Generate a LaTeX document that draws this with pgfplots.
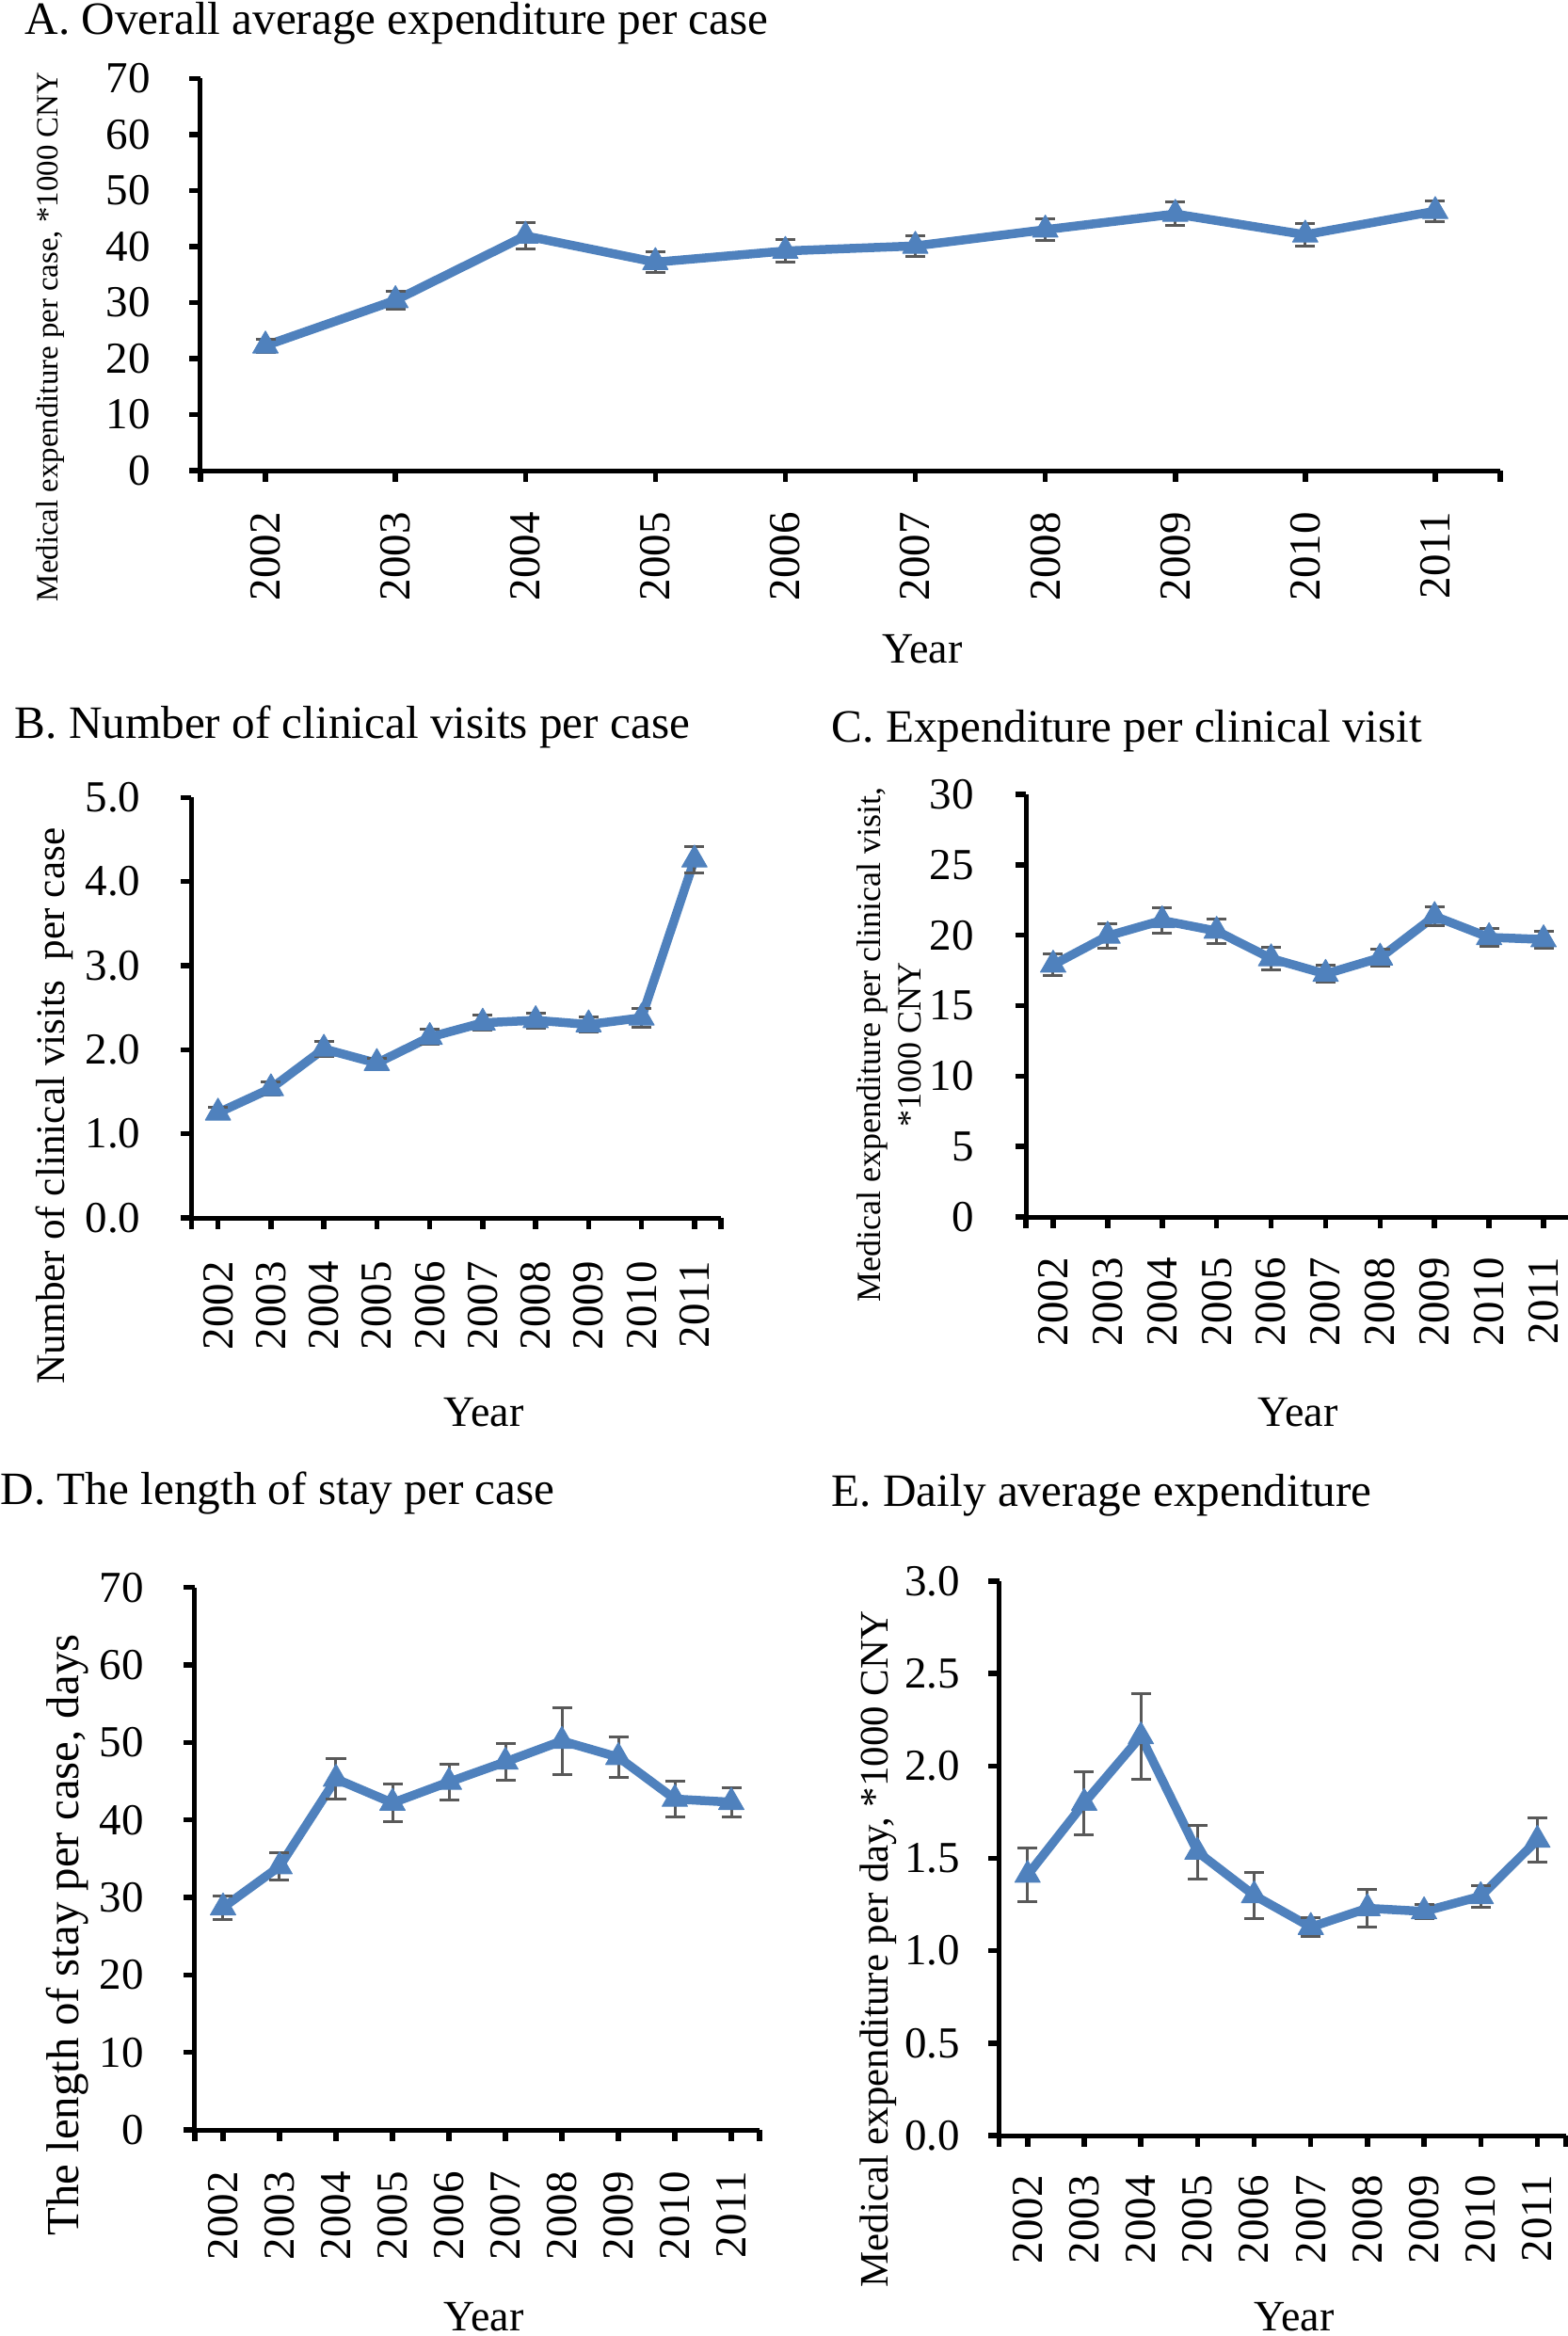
\documentclass[border=0pt]{standalone}
\usepackage{pgfplots}
\usepackage{pgfplotstable}
\pgfplotsset{compat=1.18}
\usepackage{fontspec}
\setmainfont{Liberation Serif}
\definecolor{lineblue}{RGB}{79,129,189}
\definecolor{errgray}{RGB}{89,89,89}
\newcommand\fTitle{\fontsize{14pt}{16pt}\selectfont}
\newcommand\fTick{\fontsize{13.37pt}{16pt}\selectfont}
\newcommand\fYear{\fontsize{13.1pt}{16pt}\selectfont}

\pgfplotstableread{
x y e
0 22.3 1.2
1 30.4 1.6
2 41.9 2.3
3 37.2 1.8
4 39.2 2.0
5 40.1 1.8
6 43.0 2.0
7 45.8 2.1
8 42.1 2.0
9 46.3 1.8
}\dataA
\pgfplotstableread{
x y e
0 1.25 0.06
1 1.54 0.08
2 2.01 0.09
3 1.84 0.06
4 2.15 0.09
5 2.32 0.09
6 2.35 0.09
7 2.30 0.085
8 2.38 0.11
9 4.26 0.16
}\dataB
\pgfplotstableread{
x y e
0 17.9 0.78
1 19.95 0.85
2 21.05 0.9
3 20.3 0.88
4 18.35 0.8
5 17.25 0.6
6 18.4 0.58
7 21.35 0.7
8 19.85 0.65
9 19.7 0.6
}\dataC
\pgfplotstableread{
x y e
0 28.7 1.5
1 34.0 1.75
2 45.3 2.6
3 42.2 2.45
4 44.9 2.35
5 47.5 2.4
6 50.2 4.3
7 48.1 2.65
8 42.7 2.25
9 42.3 1.85
}\dataD
\pgfplotstableread{
x y e
0 1.41 0.145
1 1.80 0.17
2 2.16 0.23
3 1.535 0.145
4 1.30 0.125
5 1.128 0.05
6 1.23 0.1
7 1.213 0.04
8 1.295 0.06
9 1.60 0.12
}\dataE

\pgfplotsset{
  panel/.style={
    scale only axis,
    axis x line*=bottom, axis y line*=left,
    axis line style={line width=0.5mm, black},
    tick align=outside,
    major tick length=1.15mm,
    major tick style={line width=0.55mm, black},
    xmin=-0.5, xmax=9.5,
    xtick={0,...,9},
    xticklabels={2002,2003,2004,2005,2006,2007,2008,2009,2010,2011},
    extra x ticks={-0.5,9.5}, extra x tick labels={},
    xticklabel style={rotate=90, anchor=east, inner ysep=0pt, inner xsep=3.2mm, font=\fTick},
    yticklabel style={anchor=east, inner ysep=0pt, inner xsep=4.1mm, font=\fTick},
    /pgf/number format/assume math mode=true,
    clip=false,
  },
  onedec/.style={
    /pgf/number format/fixed,
    /pgf/number format/fixed zerofill,
    /pgf/number format/precision=1,
  },
  dataline/.style={lineblue, line width=0.95mm, line join=round,
    mark=triangle*, mark size=1.55mm,
    mark options={solid, fill=lineblue, draw=lineblue, line width=0.1mm},
    error bars/.cd, y dir=both, y explicit,
    error bar style={line width=0.3mm, errgray},
    error mark options={rotate=90, errgray, line width=0.3mm, mark size=1.05mm}},
}

\begin{document}
\begin{tikzpicture}
\path[use as bounding box] (0,0) rectangle (166.5mm,-248.2mm);

% Panel A
\begin{axis}[panel, at={(21.3mm,-50.0mm)}, anchor=south west,
  width=138.1mm, height=41.67mm, ymin=0, ymax=70, ytick={0,10,...,70}]
\addplot[dataline] table[x=x, y=y, y error=e] {\dataA};
\end{axis}

% Panel B
\begin{axis}[panel, onedec, at={(20.35mm,-129.4mm)}, anchor=south west,
  width=56.25mm, height=44.67mm, ymin=0, ymax=5, ytick={0,1,...,5},
  xticklabel style={inner xsep=3.4mm}, yticklabel style={inner xsep=4.2mm}]
\addplot[dataline] table[x=x, y=y, y error=e] {\dataB};
\end{axis}

% Panel C
\begin{axis}[panel, at={(109.0mm,-129.3mm)}, anchor=south west,
  width=57.9mm, height=44.9mm, ymin=0, ymax=30, ytick={0,5,...,30},
  xticklabel style={inner xsep=3.1mm}, yticklabel style={inner xsep=4.3mm}]
\addplot[dataline] table[x=x, y=y, y error=e] {\dataC};
\end{axis}

% Panel D
\begin{axis}[panel, at={(20.7mm,-226.3mm)}, anchor=south west,
  width=60.0mm, height=57.63mm, ymin=0, ymax=70, ytick={0,10,...,70},
  xticklabel style={inner xsep=3.2mm}, yticklabel style={inner xsep=4.2mm}]
\addplot[dataline] table[x=x, y=y, y error=e] {\dataD};
\end{axis}

% Panel E
\begin{axis}[panel, onedec, at={(106.17mm,-226.9mm)}, anchor=south west,
  width=60.18mm, height=58.9mm, ymin=0, ymax=3, ytick={0,0.5,...,3},
  xticklabel style={inner xsep=3.0mm}, yticklabel style={inner xsep=2.97mm}]
\addplot[dataline] table[x=x, y=y, y error=e] {\dataE};
\end{axis}

% Titles
\node[anchor=base west, inner sep=0pt, font=\fTitle] at (2.6mm,-3.6mm) {A. Overall average expenditure per case};
\node[anchor=base west, inner sep=0pt, font=\fTitle] at (1.5mm,-78.4mm) {B. Number of clinical visits per case};
\node[anchor=base west, inner sep=0pt, font=\fTitle] at (88.3mm,-78.8mm) {C. Expenditure per clinical visit};
\node[anchor=base west, inner sep=0pt, font=\fTitle] at (0mm,-159.8mm) {D. The length of stay per case};
\node[anchor=base west, inner sep=0pt, font=\fTitle] at (88.3mm,-160.0mm) {E. Daily average expenditure};

% Y labels
\node[rotate=90, anchor=base, inner sep=0pt, font=\fontsize{9.35pt}{11pt}\selectfont] at (6.17mm,-35.8mm) {Medical expenditure per case, *1000 CNY};
\node[rotate=90, anchor=base, inner sep=0pt, font=\fontsize{12.3pt}{14pt}\selectfont] at (6.8mm,-117.5mm) {Number of clinical visits\ \ per case};
\node[rotate=90, anchor=base, inner sep=0pt, font=\fontsize{10.24pt}{12pt}\selectfont] at (93.5mm,-111.0mm) {Medical expenditure per clinical visit,};
\node[rotate=90, anchor=base, inner sep=0pt, font=\fontsize{10.24pt}{12pt}\selectfont] at (97.8mm,-111.0mm) {*1000 CNY};
\node[rotate=90, anchor=base, inner sep=0pt, font=\fontsize{13.9pt}{16pt}\selectfont] at (8.4mm,-205.6mm) {The length of stay per case, days};
\node[rotate=90, anchor=base, inner sep=0pt, font=\fontsize{12.2pt}{14pt}\selectfont] at (94.3mm,-207.1mm) {Medical expenditure per day, *1000 CNY};

% X labels
\node[anchor=base, inner sep=0pt, font=\fYear] at (98.0mm,-70.4mm) {Year};
\node[anchor=base, inner sep=0pt, font=\fYear] at (51.4mm,-151.5mm) {Year};
\node[anchor=base, inner sep=0pt, font=\fYear] at (137.9mm,-151.5mm) {Year};
\node[anchor=base, inner sep=0pt, font=\fYear] at (51.4mm,-247.6mm) {Year};
\node[anchor=base, inner sep=0pt, font=\fYear] at (137.5mm,-247.6mm) {Year};
\end{tikzpicture}
\end{document}
